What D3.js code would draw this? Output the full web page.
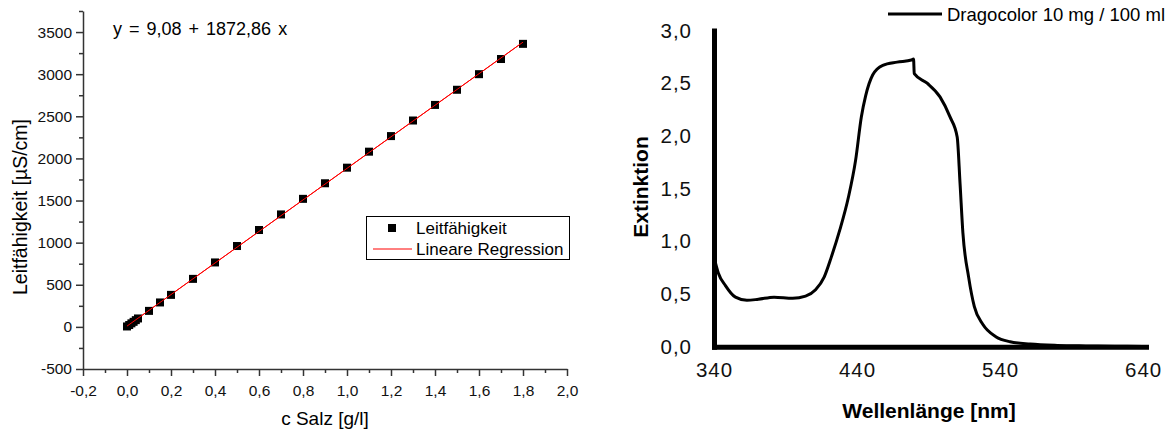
<!DOCTYPE html>
<html>
<head>
<meta charset="utf-8">
<script src="https://cdn.jsdelivr.net/npm/d3@7"></script>
<style>
  body { margin: 0; background: #fff; }
  svg { display: block; font-family: "Liberation Sans", Arial, sans-serif; }
</style>
</head>
<body>
<svg width="1171" height="430"></svg>
<script>
// left chart: conductivity vs. salt concentration
const salzConc = [0, 0.01, 0.02, 0.03, 0.04, 0.05, 0.1, 0.15, 0.2, 0.3, 0.4, 0.5, 0.6, 0.7, 0.8, 0.9, 1.0, 1.1, 1.2, 1.3, 1.4, 1.5, 1.6, 1.7, 1.8];
const leitfaehigkeit = [5, 22, 42, 60, 80, 100, 190, 290, 380, 570, 765, 960, 1150, 1335, 1520, 1705, 1890, 2080, 2265, 2450, 2635, 2815, 3000, 3180, 3360];
const regIntercept = 9.08;
const regSlope = 1872.86;
const regRange = [0, 1.8];
const leftXTicks = [-0.2, 0, 0.2, 0.4, 0.6, 0.8, 1.0, 1.2, 1.4, 1.6, 1.8, 2.0];
const leftYTicks = [-500, 0, 500, 1000, 1500, 2000, 2500, 3000, 3500];

// right chart: absorption spectrum
const wellenlaenge = [340, 343, 348, 355, 363, 371, 382, 395, 404, 411, 417, 422, 428, 434, 439, 443, 446, 451, 458, 468, 478, 479.5, 480, 489, 498, 505, 510, 512, 514, 518, 522, 528, 537, 547, 561, 580, 600, 620, 640];
const extinktion = [0.85, 0.70, 0.58, 0.47, 0.44, 0.45, 0.47, 0.46, 0.48, 0.54, 0.66, 0.85, 1.11, 1.42, 1.77, 2.18, 2.38, 2.58, 2.67, 2.70, 2.72, 2.73, 2.59, 2.50, 2.37, 2.18, 1.99, 1.55, 1.08, 0.66, 0.38, 0.21, 0.095, 0.047, 0.025, 0.012, 0.007, 0.004, 0.003];
const rightXTicks = [340, 440, 540, 640];
const rightYTicks = [0, 0.5, 1.0, 1.5, 2.0, 2.5, 3.0];

const svg = d3.select("svg");
const comma = d => d.toFixed(1).replace(".", ",");

// ---------- left chart ----------
const x1 = d3.scaleLinear().domain([-0.2, 2.0]).range([83, 567]);
const y1 = d3.scaleLinear().domain([-500, 3750]).range([369, 11]);
const axisColor = "#333";

const left = svg.append("g");

// minor ticks first
left.append("g")
  .attr("transform", `translate(0,${y1(-500)})`)
  .call(d3.axisBottom(x1).tickValues(d3.range(-0.1, 2.0, 0.2)).tickSize(4).tickFormat(""))
  .call(g => g.select(".domain").remove());
left.append("g")
  .attr("transform", `translate(${x1(-0.2)},0)`)
  .call(d3.axisLeft(y1).tickValues(d3.range(-250, 3800, 500)).tickSize(4).tickFormat(""))
  .call(g => g.select(".domain").remove());

const xAx1 = left.append("g")
  .attr("transform", `translate(0,${y1(-500)})`)
  .call(d3.axisBottom(x1).tickValues(leftXTicks).tickSize(7).tickSizeOuter(0).tickPadding(9).tickFormat(comma));
const yAx1 = left.append("g")
  .attr("transform", `translate(${x1(-0.2)},0)`)
  .call(d3.axisLeft(y1).tickValues(leftYTicks).tickSize(7).tickSizeOuter(0).tickPadding(4).tickFormat(d => String(d)));

[xAx1, yAx1].forEach(g => {
  g.selectAll(".domain, line").attr("stroke", axisColor).attr("stroke-width", 1.5);
  g.selectAll("text").attr("font-size", 15.5).attr("fill", "#111").attr("font-family", "Liberation Sans, Arial");
});
left.selectAll("line").attr("stroke", axisColor).attr("stroke-width", 1.5);

left.append("text")
  .attr("x", 325).attr("y", 425)
  .attr("text-anchor", "middle").attr("font-size", 19)
  .text("c Salz [g/l]");
left.append("text")
  .attr("transform", "translate(27,207) rotate(-90)")
  .attr("text-anchor", "middle").attr("font-size", 19.5)
  .text("Leitfähigkeit [µS/cm]");

left.append("text")
  .attr("x", 113).attr("y", 35)
  .attr("font-size", 18).attr("word-spacing", 2)
  .text(`y = ${String(regIntercept).replace(".", ",")} + ${String(regSlope).replace(".", ",")} x`);

// regression line
left.append("line")
  .attr("x1", x1(regRange[0])).attr("y1", y1(regIntercept + regSlope * regRange[0]))
  .attr("x2", x1(regRange[1])).attr("y2", y1(regIntercept + regSlope * regRange[1]))
  .attr("stroke", "#ff0000").attr("stroke-width", 1);

const sq = 8;
left.selectAll("rect.pt")
  .data(salzConc.map((c, i) => ({ c, v: leitfaehigkeit[i] })))
  .enter().append("rect")
    .attr("class", "pt")
    .attr("x", d => x1(d.c) - sq / 2)
    .attr("y", d => y1(d.v) - sq / 2)
    .attr("width", sq).attr("height", sq)
    .attr("fill", "#000");

// redraw regression on top of points (thin red visible through squares)
left.append("line")
  .attr("x1", x1(regRange[0])).attr("y1", y1(regIntercept + regSlope * regRange[0]))
  .attr("x2", x1(regRange[1])).attr("y2", y1(regIntercept + regSlope * regRange[1]))
  .attr("stroke", "#ff0000").attr("stroke-width", 1);

// legend
const lg = left.append("g");
lg.append("rect")
  .attr("x", 366.5).attr("y", 216.5).attr("width", 203).attr("height", 43)
  .attr("fill", "#fff").attr("stroke", "#000").attr("stroke-width", 1);
lg.append("rect")
  .attr("x", 388).attr("y", 224).attr("width", sq).attr("height", sq).attr("fill", "#000");
lg.append("line")
  .attr("x1", 373).attr("x2", 412).attr("y1", 249).attr("y2", 249)
  .attr("stroke", "#ff0000").attr("stroke-width", 1);
lg.append("text").attr("x", 416).attr("y", 234).attr("font-size", 17).text("Leitfähigkeit");
lg.append("text").attr("x", 416).attr("y", 255).attr("font-size", 17).text("Lineare Regression");

// ---------- right chart ----------
const x2 = d3.scaleLinear().domain([340, 642]).range([714, 1146]);
const y2 = d3.scaleLinear().domain([0, 3.0]).range([346.7, 30.5]);

const right = svg.append("g");

const xAx2 = right.append("g")
  .attr("transform", `translate(0,${y2(0)})`)
  .call(d3.axisBottom(x2).tickValues(rightXTicks).tickSize(0).tickPadding(16).tickFormat(d => String(d)));
const yAx2 = right.append("g")
  .attr("transform", `translate(${x2(340)},0)`)
  .call(d3.axisLeft(y2).tickValues(rightYTicks).tickSize(0).tickPadding(22).tickFormat(comma));

[xAx2, yAx2].forEach(g => {
  g.select(".domain").attr("stroke", "#000").attr("stroke-width", 5).attr("stroke-linecap", "square");
  g.selectAll("text").attr("font-size", 20.5).attr("letter-spacing", 1).attr("fill", "#111").attr("font-family", "Liberation Sans, Arial");
});

const line = d3.line()
  .x((d, i) => x2(wellenlaenge[i]))
  .y(d => y2(d))
  .curve(d3.curveMonotoneX);

right.append("path")
  .datum(extinktion)
  .attr("d", line)
  .attr("fill", "none")
  .attr("stroke", "#000")
  .attr("stroke-width", 3)
  .attr("stroke-linejoin", "round");

right.append("text")
  .attr("x", 929).attr("y", 418)
  .attr("text-anchor", "middle").attr("font-size", 21).attr("font-weight", "bold")
  .text("Wellenlänge [nm]");
right.append("text")
  .attr("transform", "translate(648,187) rotate(-90)")
  .attr("text-anchor", "middle").attr("font-size", 21).attr("font-weight", "bold")
  .text("Extinktion");

// legend
right.append("line")
  .attr("x1", 888).attr("x2", 942).attr("y1", 14).attr("y2", 14)
  .attr("stroke", "#000").attr("stroke-width", 3);
right.append("text")
  .attr("x", 947).attr("y", 20.5).attr("font-size", 18.5)
  .text("Dragocolor 10 mg / 100 ml");
</script>
</body>
</html>
